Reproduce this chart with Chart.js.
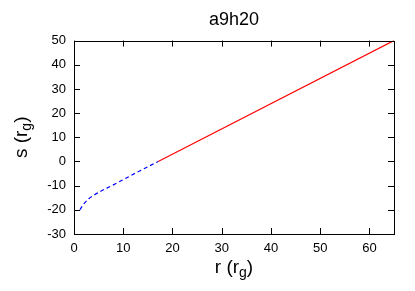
<!DOCTYPE html>
<html>
<head>
<meta charset="utf-8">
<script src="https://cdn.jsdelivr.net/npm/chart.js@4/dist/chart.umd.min.js"></script>
<style>
  html, body { margin: 0; padding: 0; background: #ffffff; }
  #wrap { width: 415px; height: 291px; }
</style>
</head>
<body>
<div id="wrap"><canvas id="chart" width="415" height="291"></canvas></div>
<script>
// curve data
const rInner = [1.2, 1.5, 2, 3, 4, 5, 6, 7.5, 10, 12.5, 15, 17.1];
const sInner = [-20, -19, -17.5, -15.4, -14.0, -12.8, -11.7, -10.2, -7.5, -4.8, -2.2, 0];
const rOuter = [17.1, 65];
const sOuter = [0, 50];

const xTicks = [0, 10, 20, 30, 40, 50, 60];
const yTicks = [-30, -20, -10, 0, 10, 20, 30, 40, 50];

const FONT = "'Liberation Sans', Arial, Helvetica, sans-serif";

function toPoints(xs, ys) {
    return xs.map((x, i) => ({ x: x, y: ys[i] }));
}

// gnuplot-like frame with inward ticks on all four sides
const framePlugin = {
    id: 'frame',
    afterDatasetsDraw(chart) {
        const ctx = chart.ctx;
        const a = chart.chartArea;
        const xs = chart.scales.x;
        const ys = chart.scales.y;
        const len = 6;
        ctx.save();
        ctx.strokeStyle = '#000000';
        ctx.lineWidth = 1;
        ctx.beginPath();
        xTicks.forEach(v => {
            const px = Math.round(xs.getPixelForValue(v)) + 0.5;
            ctx.moveTo(px, a.bottom);
            ctx.lineTo(px, a.bottom - len);
            ctx.moveTo(px, a.top);
            ctx.lineTo(px, a.top + len);
        });
        yTicks.forEach(v => {
            const py = Math.round(ys.getPixelForValue(v)) + 0.5;
            ctx.moveTo(a.left, py);
            ctx.lineTo(a.left + len, py);
            ctx.moveTo(a.right, py);
            ctx.lineTo(a.right - len, py);
        });
        ctx.stroke();
        ctx.strokeRect(Math.round(a.left) + 0.5, Math.round(a.top) + 0.5,
                       Math.round(a.right - a.left), Math.round(a.bottom - a.top));

        // axis titles with subscript g
        ctx.fillStyle = '#000000';
        ctx.textBaseline = 'alphabetic';
        const drawSubTitle = (main, close) => {
            ctx.font = '19px ' + FONT;
            const w1 = ctx.measureText(main).width;
            const w3 = ctx.measureText(close).width;
            ctx.font = '14px ' + FONT;
            const w2 = ctx.measureText('g').width;
            const total = w1 + w2 + w3;
            let x0 = -total / 2;
            ctx.font = '19px ' + FONT;
            ctx.textAlign = 'left';
            ctx.fillText(main, x0, 0);
            ctx.font = '14px ' + FONT;
            ctx.fillText('g', x0 + w1, 4);
            ctx.font = '19px ' + FONT;
            ctx.fillText(close, x0 + w1 + w2, 0);
        };
        const cx = (a.left + a.right) / 2;
        const cy = (a.top + a.bottom) / 2;
        ctx.save();
        ctx.translate(cx, 273);
        drawSubTitle('r (r', ')');
        ctx.restore();
        ctx.save();
        ctx.translate(27, cy);
        ctx.rotate(-Math.PI / 2);
        drawSubTitle('s (r', ')');
        ctx.restore();
        ctx.restore();
    }
};

new Chart(document.getElementById('chart'), {
    type: 'scatter',
    data: {
        datasets: [
            {
                label: 'inner',
                data: toPoints(rInner, sInner),
                showLine: true,
                borderColor: '#0000ff',
                borderWidth: 1.2,
                borderDash: [4, 3],
                pointRadius: 0,
                cubicInterpolationMode: 'monotone'
            },
            {
                label: 'outer',
                data: toPoints(rOuter, sOuter),
                showLine: true,
                borderColor: '#ff0000',
                borderWidth: 1.2,
                pointRadius: 0
            }
        ]
    },
    options: {
        responsive: false,
        animation: false,
        layout: { padding: { left: 0, right: 21, top: 0, bottom: 0 } },
        plugins: {
            legend: { display: false },
            tooltip: { enabled: false },
            title: {
                display: true,
                fullSize: false,
                text: 'a9h20',
                color: '#000000',
                font: { family: FONT, size: 18, weight: 'normal' },
                padding: { top: 9, bottom: 10 }
            }
        },
        scales: {
            x: {
                type: 'linear',
                min: 0,
                max: 65,
                grid: { display: false, drawTicks: false },
                border: { display: false },
                ticks: {
                    stepSize: 10,
                    includeBounds: false,
                    color: '#000000',
                    padding: 7,
                    maxRotation: 0,
                    font: { family: FONT, size: 13 }
                },
                afterFit(scale) { scale.height = 57; }
            },
            y: {
                type: 'linear',
                min: -30,
                max: 50,
                grid: { display: false, drawTicks: false },
                border: { display: false },
                ticks: {
                    stepSize: 10,
                    color: '#000000',
                    padding: 8,
                    font: { family: FONT, size: 13 }
                },
                afterFit(scale) { scale.width = 74; }
            }
        }
    },
    plugins: [framePlugin]
});
</script>
</body>
</html>
